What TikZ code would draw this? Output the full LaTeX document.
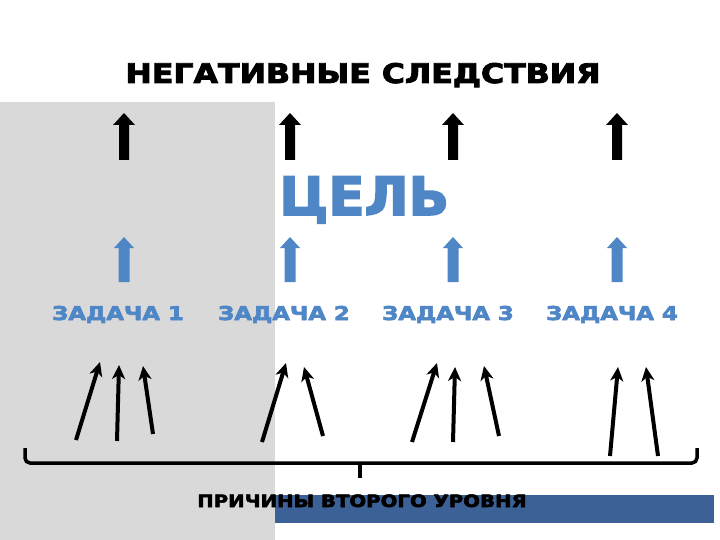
\documentclass[tikz,border=0pt]{standalone}
\usepackage{fontspec}
\setmainfont{DejaVu Sans}[BoldFeatures={FakeBold=3}]
\usetikzlibrary{arrows.meta}

\definecolor{panelgray}{HTML}{D9D9D9}
\definecolor{goalblue}{HTML}{4F86C6}
\definecolor{barblue}{HTML}{3B6196}

\begin{document}
\begin{tikzpicture}[
        x=1pt,y=-1pt,
        heading/.style={font=\fontsize{27}{30}\selectfont\bfseries,anchor=base,xscale=1.17},
        task/.style={font=\fontsize{19}{22}\selectfont\bfseries,text=goalblue,anchor=base,xscale=1.2},
        cause/.style={-{Stealth[length=14pt,width=13pt,inset=4pt]},line width=4pt},
        every node/.append style={inner sep=0pt}
    ]
        \useasboundingbox (0,0) rectangle (720,540);
        \fill [white] (0,0) rectangle (720,540);
        \fill [panelgray] (0,102) rectangle (275,540);
        \fill [barblue] (275,495) rectangle (714,523);

        \node [heading] (title) at (363,83) {НЕГАТИВНЫЕ СЛЕДСТВИЯ};

        % block arrows
        \foreach \x in {124,290,453,617} {
            \fill [black] (\x,113) -- (\x+11,125) -- (\x+5,125) -- (\x+5,160)
                -- (\x-5,160) -- (\x-5,125) -- (\x-11,125) -- cycle;
            \fill [goalblue] (\x,237) -- (\x+10,248) -- (\x+5.5,248) -- (\x+5.5,282)
                -- (\x-5.5,282) -- (\x-5.5,248) -- (\x-10,248) -- cycle;
        }

        \node [font=\fontsize{53}{56}\selectfont\bfseries,text=goalblue,anchor=base west]
            (goal) at (279,215) {ЦЕЛЬ};

        \node [task] (task1) at (118,320) {ЗАДАЧА 1};
        \node [task] (task2) at (284,320) {ЗАДАЧА 2};
        \node [task] (task3) at (448,320) {ЗАДАЧА 3};
        \node [task] (task4) at (612,320) {ЗАДАЧА 4};

        % second level causes
        \foreach \n/\sx/\sy/\ex/\ey in {1/76/440/100/362, 2/117/441/119/365, 3/153/434/143/366,
                4/262/442/286/363, 5/323/436/304/367,
                6/412/442/437/363, 7/453/442/455/367, 8/499/436/484/366,
                9/610/456/618/367, 10/658/456/646/367} {
            \coordinate (s\n) at (\sx,\sy);
            \coordinate (e\n) at (\ex,\ey);
            \draw [cause] (s\n) -- (e\n);
        }

        % brace
        \coordinate (bl) at (25,448);
        \coordinate (br) at (697,448);
        \coordinate (bm) at (360,463);
        \coordinate (tip) at (360,478);
        \draw [line width=3.5pt,rounded corners=5pt] (bl) |- (bm) -| (br);
        \draw [line width=3.5pt] (bm) -- (tip);

        \node [font=\fontsize{17}{20}\selectfont\bfseries,anchor=base,xscale=1.16]
            (causes) at (362,507) {ПРИЧИНЫ ВТОРОГО УРОВНЯ};
\end{tikzpicture}
\end{document}
